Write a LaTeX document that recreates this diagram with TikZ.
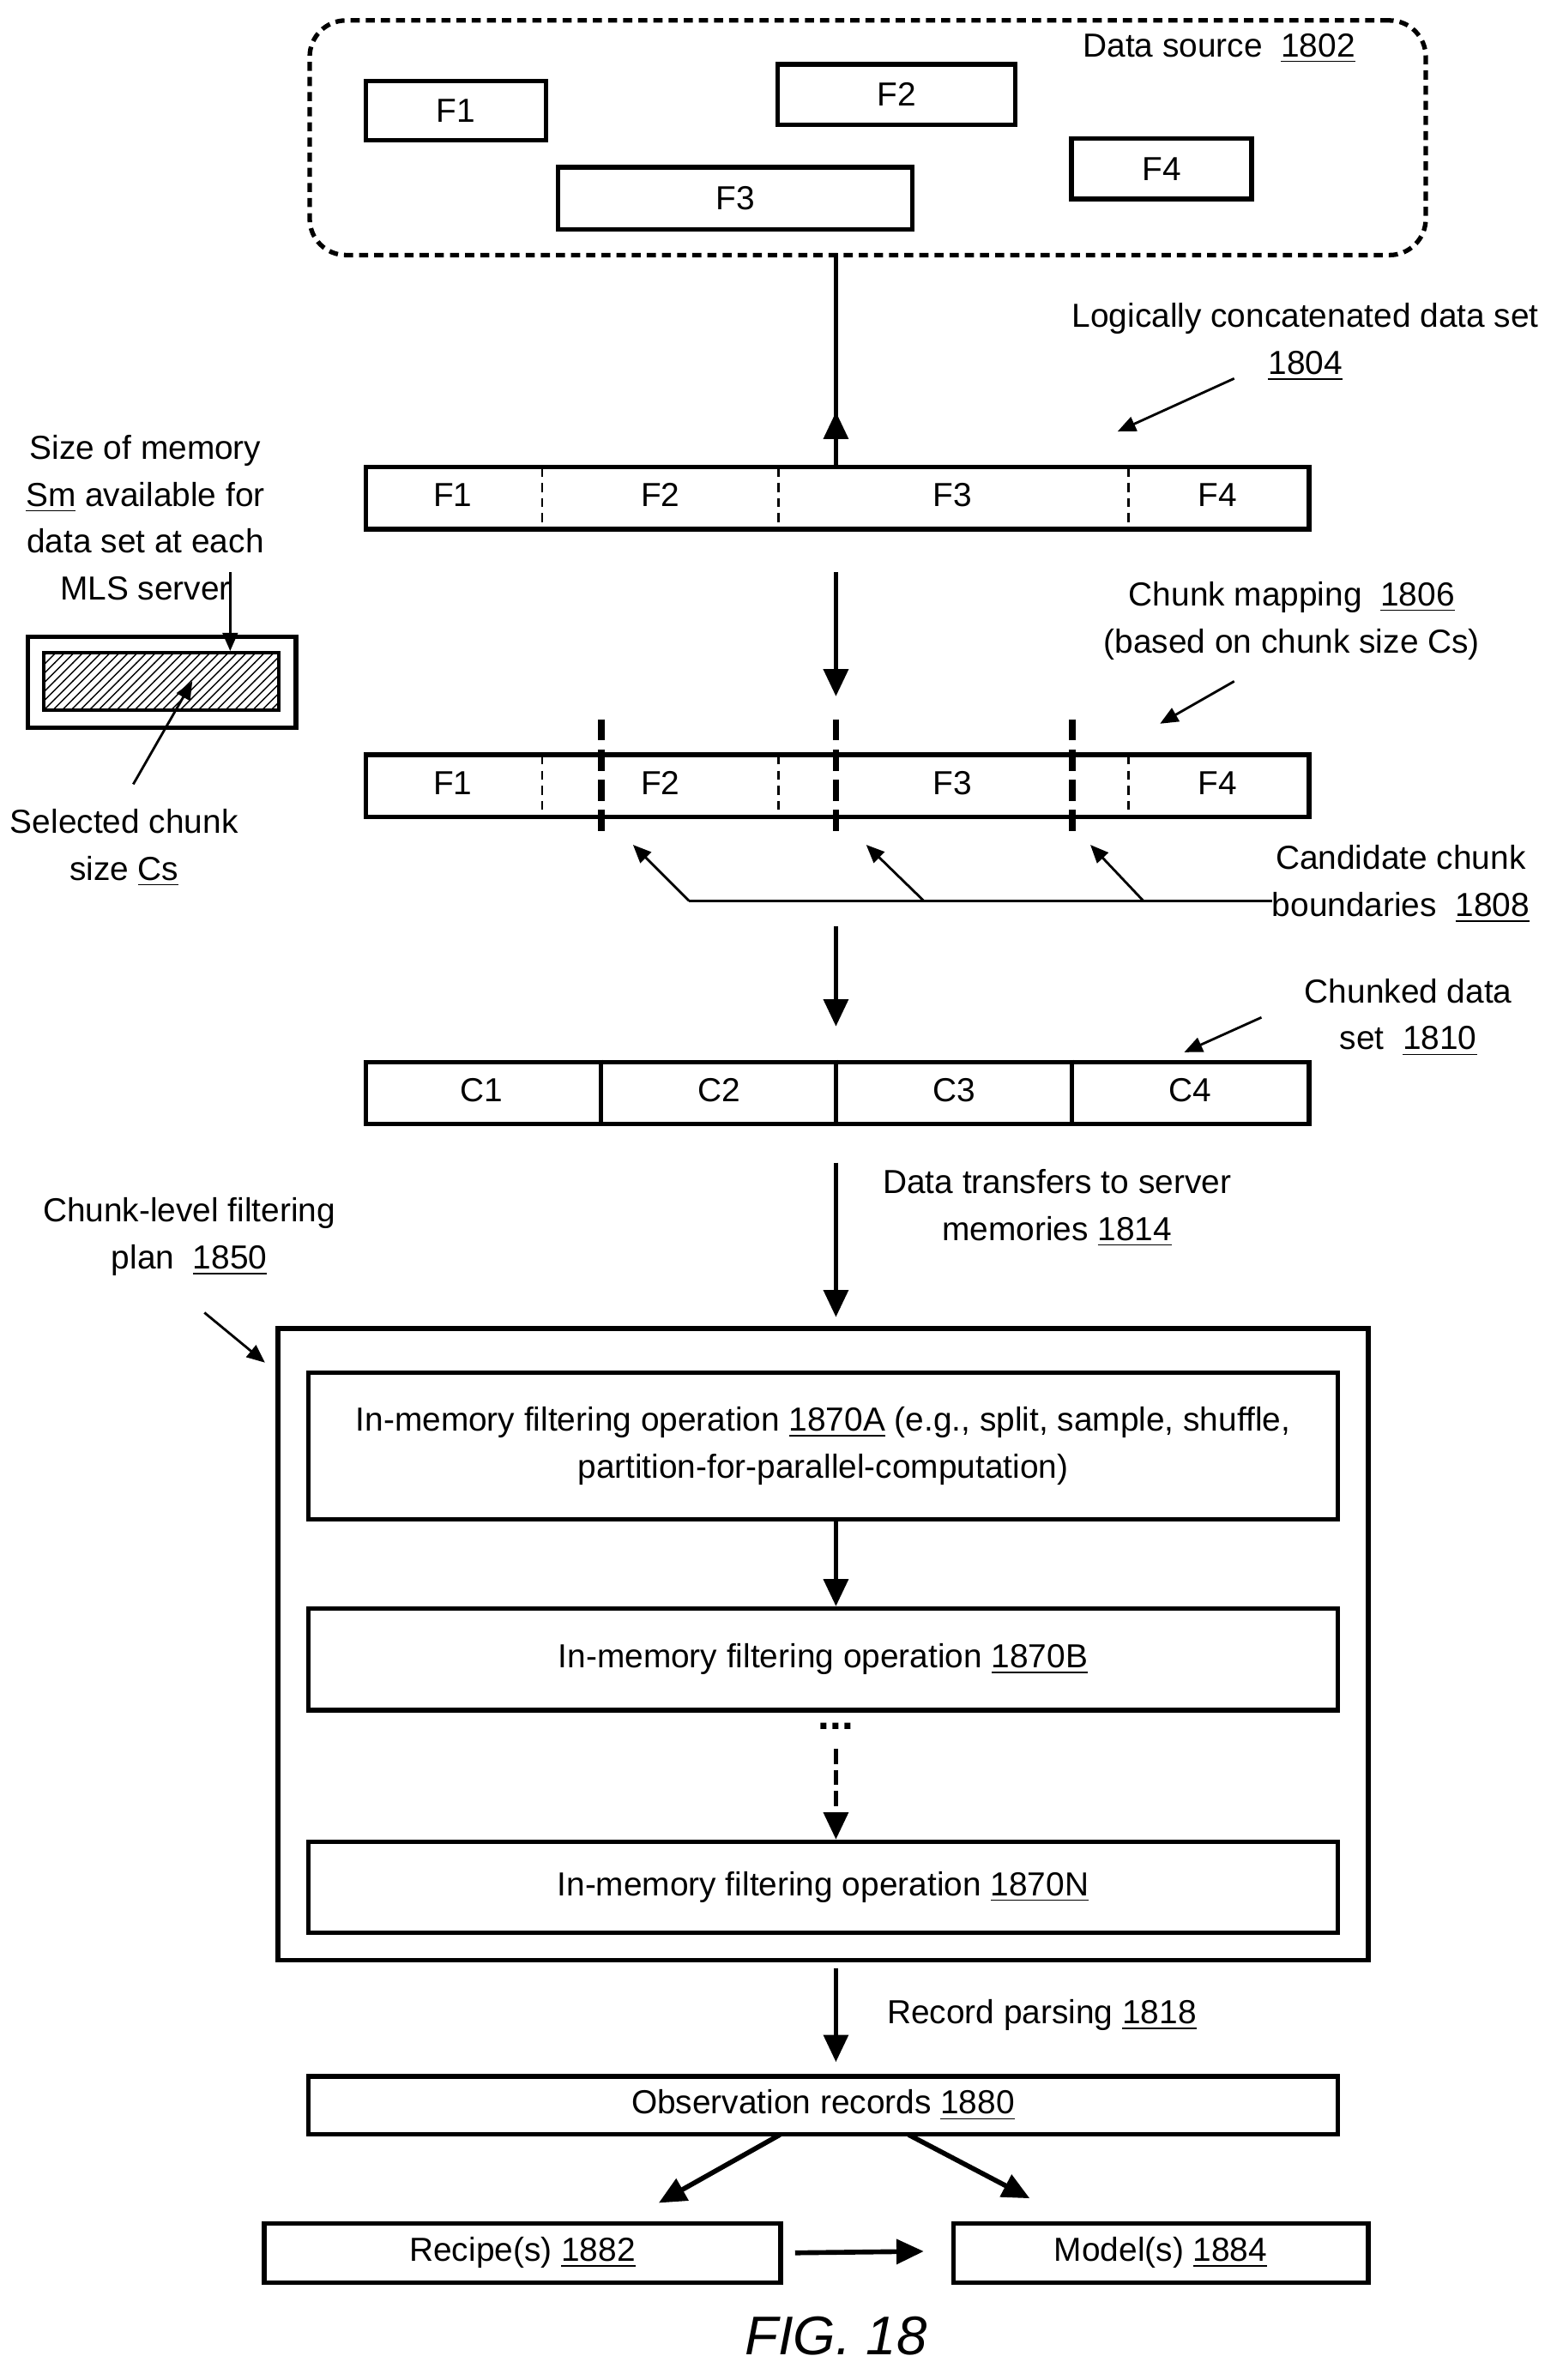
\documentclass[tikz,border=0pt]{standalone}
\usepackage{fontspec}
\setmainfont{Liberation Sans}
\usetikzlibrary{arrows.meta,patterns}
\tikzset{every picture/.style={line width=0.75pt},
  box/.style={draw,line width=1.5pt,inner sep=0pt,anchor=north west},
  lbl/.style={inner sep=0.75pt,align=center,font=\fontsize{11}{15.5}\selectfont},
  flow/.style={line width=1.6pt,-{Triangle[length=9pt,width=8pt]}},
  pointer/.style={line width=0.8pt,-{Triangle[length=6pt,width=5pt]}}}
\newcommand{\num}[1]{\underline{#1}}
\begin{document}
\begin{tikzpicture}[x=0.5pt,y=0.5pt,yscale=-1,xscale=1]
\useasboundingbox (0,0) rectangle (1024,1572);

%Data source
\node [box, dash pattern={on 3pt off 2pt}, rounded corners=12pt, minimum width=368.5pt, minimum height=77.5pt] (src) at (203,12) {};
\node [lbl] (srct) at (805,32) {Data source \ \num{1802}};
\node [box, minimum width=59.5pt, minimum height=19.5pt] (sf1) at (240,52) {};
\node [lbl] at (sf1.center) {F1};
\node [box, minimum width=78.5pt, minimum height=20pt] (sf2) at (512,41) {};
\node [lbl] at (sf2.center) {F2};
\node [box, minimum width=117pt, minimum height=20.5pt] (sf3) at (367,109) {};
\node [lbl] at (sf3.center) {F3};
\node [box, minimum width=59.5pt, minimum height=20pt] (sf4) at (706,90) {};
\node [lbl] at (sf4.center) {F4};

%Logically concatenated data set
\node [box, minimum width=311.5pt, minimum height=20.5pt] (bar1) at (240,307) {};
\coordinate (a1) at (552,167);
\draw [flow] (a1) -- (bar1.north -| a1) ++(0,-35) ;
\foreach \x in {358,514,745} \draw [densely dashed,line width=0.8pt] (\x,309) -- (\x,346);
\foreach \x/\t in {299/F1,436/F2,629/F3,804/F4} \node [lbl] at (\x,327) {\t};
\node [lbl] (lcd) at (862,226) {Logically concatenated data set\\\num{1804}};
\coordinate (p1) at (815,250); \coordinate (p1e) at (738,285);
\draw [pointer] (p1) -- (p1e);

%memory
\node [lbl] (mem) at (96,342) {Size of memory\\\num{Sm} available for\\data set at each\\MLS server};
\node [box, minimum width=88.5pt, minimum height=30pt] (memb) at (17,419) {};
\node [draw, line width=1pt, pattern=north east lines, minimum width=77.5pt, minimum height=19pt, anchor=north west] (cs) at (28,430) {};
\coordinate (m1) at (152,378);
\draw [pointer] (m1) -- (152,430);
\node [lbl] (sel) at (82,560) {Selected chunk\\size \num{Cs}};
\coordinate (m2) at (88,518);
\draw [pointer] (m2) -- (127,450);

%Chunk mapping
\node [box, minimum width=311.5pt, minimum height=20.5pt] (bar2) at (240,497) {};
\draw [flow] (552,378) -- (552,460);
\foreach \x in {358,514,745} \draw [densely dashed,line width=0.8pt] (\x,499) -- (\x,536);
\foreach \x in {397,552,708} \draw [line width=2.2pt,dash pattern={on 7pt off 3pt}] (\x,475) -- (\x,550);
\foreach \x/\t in {299/F1,436/F2,629/F3,804/F4} \node [lbl] at (\x,517) {\t};
\node [lbl] (cm) at (853,410) {Chunk mapping \ \num{1806}\\(based on chunk size Cs)};
\draw [pointer] (815,450) -- (766,478);

%Candidate chunk boundaries
\node [lbl] (ccb) at (925,584) {Candidate chunk\\boundaries \ \num{1808}};
\coordinate (cb) at (840,595);
\draw [line width=0.8pt] (cb) -- (455,595);
\draw [pointer] (455,595) -- (418,558);
\draw [pointer] (610,595) -- (572,558);
\draw [pointer] (755,595) -- (720,558);

%Chunked data set
\draw [flow] (552,612) -- (552,678);
\node [box, minimum width=311.5pt, minimum height=20.5pt] (bar3) at (240,700) {};
\foreach \x in {397,552,708} \draw [line width=1.5pt] (\x,700) -- (\x,741);
\foreach \x/\t in {318/C1,475/C2,630/C3,786/C4} \node [lbl] at (\x,720) {\t};
\node [lbl] (cds) at (930,672) {Chunked data\\set \ \num{1810}};
\draw [pointer] (833,672) -- (782,695);

%Data transfers
\draw [flow] (552,768) -- (552,870);
\node [lbl] (dt) at (698,798) {Data transfers to server\\memories \num{1814}};
\node [lbl] (plan) at (125,817) {Chunk-level filtering\\plan \ \num{1850}};
\draw [pointer] (135,867) -- (175,900);

%Filtering plan
\node [box, minimum width=360pt, minimum height=208.5pt] (fp) at (182,876) {};
\node [box, minimum width=340pt, minimum height=48.5pt] (opa) at (202,905) {};
\node [lbl] at (opa.center) {In-memory filtering operation \num{1870A} (e.g., split, sample, shuffle,\\partition-for-parallel-computation)};
\node [box, minimum width=340pt, minimum height=33.5pt] (opb) at (202,1061) {};
\node [lbl] at (opb.center) {In-memory filtering operation \num{1870B}};
\node [box, minimum width=340pt, minimum height=30pt] (opn) at (202,1215) {};
\node [lbl] at (opn.center) {In-memory filtering operation \num{1870N}};
\draw [flow] (opa.south -| 552,0) -- (opb.north -| 552,0);
\node [font=\bfseries\fontsize{14}{14}\selectfont, inner sep=0pt] (dots) at (552,1140) {...};
\draw [line width=1.6pt, dash pattern={on 5pt off 2pt}, -{Triangle[length=9pt,width=8pt]}] (552,1155) -- (opn.north -| 552,0);

%Records
\draw [flow] (552,1300) -- (552,1362);
\node [lbl] (rp) at (688,1331) {Record parsing \num{1818}};
\node [box, minimum width=340pt, minimum height=19pt] (obs) at (202,1370) {};
\node [lbl] at (obs.center) {Observation records \num{1880}};
\node [box, minimum width=170.5pt, minimum height=19.5pt] (rec) at (173,1467) {};
\node [lbl] at (rec.center) {Recipe(s) \num{1882}};
\node [box, minimum width=137pt, minimum height=19.5pt] (mod) at (628,1467) {};
\node [lbl] at (mod.center) {Model(s) \num{1884}};
\draw [flow] (515,1410) -- (435,1455);
\draw [flow] (600,1410) -- (680,1452);
\draw [flow] (rec.east) ++(8,0) -- (610,1487);

\node [font=\itshape\fontsize{18}{18}\selectfont] (fig) at (552,1543) {FIG. 18};
\end{tikzpicture}
\end{document}
